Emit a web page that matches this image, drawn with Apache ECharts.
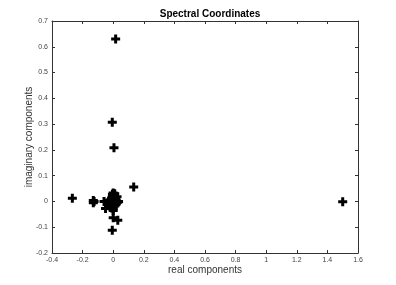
<!DOCTYPE html>
<html><head><meta charset="utf-8">
<script src="https://cdn.jsdelivr.net/npm/echarts@6/dist/echarts.min.js"></script>
<style>html,body{margin:0;padding:0;background:#fff}#c{width:396px;height:285px}</style>
</head><body><div id="c"></div>
<script>
var realParts = [0.016,-0.006,0.005,0.134,-0.267,-0.13,-0.13,-0.125,1.5,-0.006,0.0,0.03,-0.05,-0.06,
  -0.035,-0.025,-0.015,-0.01,-0.005,0.0,0.005,0.01,0.015,0.02,0.025,0.03,-0.02,-0.01,0.0,0.01,0.02,-0.03,0.0,0.005,-0.005,0.01,0.035,0.0,-0.015,0.015];
var imagParts = [0.63,0.307,0.208,0.056,0.012,0.004,-0.005,0.0,-0.001,-0.112,-0.063,-0.073,-0.027,0.0,
  -0.005,0.005,-0.01,0.01,0.02,0.033,0.025,0.015,0.0,-0.01,0.018,-0.003,-0.02,-0.025,-0.035,-0.018,0.005,0.002,0.01,-0.015,0.028,0.03,0.0,-0.028,0.0,-0.005];
var xTicks = [-0.4,1.6,0.2];
var yTicks = [-0.2,0.7,0.1];
var pts = realParts.map(function(v,i){return [v, imagParts[i]];});
var fmt = function(v){ var r = Math.round(v*10)/10; return (Math.abs(r)<1e-9)?'0':String(r); };
var plus = 'path://M3,0H6V3H9V6H6V9H3V6H0V3H3Z';
var axisCommon = {
  axisLine:{onZero:false, lineStyle:{color:'#333', width:1}},
  axisTick:{inside:true, length:3, lineStyle:{color:'#333'}},
  splitLine:{show:false}
};
var chart = echarts.init(document.getElementById('c'));
chart.setOption({
  animation:false,
  title:{text:'Spectral Coordinates', left:205, textAlign:'center', top:4,
    textStyle:{fontFamily:'Liberation Sans', fontSize:10, fontWeight:'bold', color:'#000'}},
  grid:{left:52, right:38, top:21, bottom:32},
  xAxis:[
    Object.assign({type:'value', min:xTicks[0], max:xTicks[1], interval:xTicks[2], position:'bottom',
      name:'real components', nameLocation:'middle', nameGap:12, nameMoveOverlap:false,
      nameTextStyle:{fontFamily:'Liberation Sans', fontSize:10, color:'#333'},
      axisLabel:{formatter:fmt, fontFamily:'Liberation Sans', fontSize:7, color:'#444', margin:4}}, axisCommon),
    Object.assign({type:'value', min:xTicks[0], max:xTicks[1], interval:xTicks[2], position:'top',
      axisLabel:{show:false}}, axisCommon)
  ],
  yAxis:[
    Object.assign({type:'value', min:yTicks[0], max:yTicks[1], interval:yTicks[2], position:'left',
      name:'imaginary components', nameLocation:'middle', nameGap:18, nameMoveOverlap:false,
      nameTextStyle:{fontFamily:'Liberation Sans', fontSize:10, color:'#333'},
      axisLabel:{formatter:fmt, fontFamily:'Liberation Sans', fontSize:7, color:'#444', margin:4}}, axisCommon),
    Object.assign({type:'value', min:yTicks[0], max:yTicks[1], interval:yTicks[2], position:'right',
      axisLabel:{show:false}}, axisCommon)
  ],
  series:[{type:'scatter', data:pts, symbol:plus, symbolSize:9,
    itemStyle:{color:'#000', opacity:1}}]
});
</script></body></html>
